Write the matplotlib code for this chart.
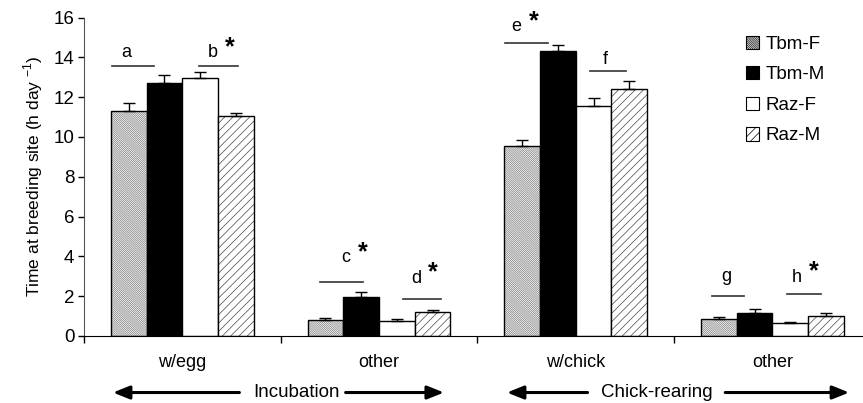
import matplotlib.pyplot as plt
from matplotlib.patches import Patch
from matplotlib import transforms
import numpy as np

plt.rcParams['font.family'] = ['Liberation Sans', 'DejaVu Sans']
plt.rcParams['hatch.linewidth'] = 0.5

# donnees
groups = ['w/egg', 'other', 'w/chick', 'other']
series = ['Tbm-F', 'Tbm-M', 'Raz-F', 'Raz-M']
means = [
    [11.30, 0.80, 9.56, 0.87],   # Tbm-F
    [12.73, 1.94, 14.34, 1.14],  # Tbm-M
    [12.98, 0.74, 11.57, 0.65],  # Raz-F
    [11.06, 1.20, 12.40, 1.02],  # Raz-M
]
errs = [
    [0.42, 0.12, 0.27, 0.07],
    [0.37, 0.25, 0.27, 0.20],
    [0.29, 0.11, 0.41, 0.07],
    [0.16, 0.12, 0.40, 0.12],
]
# lettres de significativite : lettre, debut, fin, hauteur du trait, x/y lettre, etoile
sig_letters = ['a', 'b', 'c', 'd', 'e', 'f', 'g', 'h']
sig_x0 = [-0.359, 0.083, 0.700, 1.123, 1.640, 2.072, 2.691, 3.075]
sig_x1 = [-0.146, 0.281, 0.920, 1.313, 1.859, 2.254, 2.857, 3.245]
sig_y = [13.58, 13.58, 2.71, 1.84, 14.74, 13.32, 2.01, 2.13]
sig_tx = [-0.283, 0.156, 0.830, 1.188, 1.700, 2.149, 2.767, 3.125]
sig_ty = [14.22, 14.22, 3.92, 2.91, 15.53, 13.87, 2.98, 2.96]
sig_star = [False, True, True, True, True, False, False, True]
phases = ['Incubation', 'Chick-rearing']

fig = plt.figure(figsize=(8.63, 4.03), dpi=100)
# l'axe x depasse a droite de l'image, comme sur l'original
ax = fig.add_axes([84/863, 67/403, (870.8-84)/863, (336-17.5)/403])

x = np.arange(len(groups))
w = 0.1815
fills = ['white', 'black', 'white', 'white']
hatches = ['\\' * 16, None, None, '////']
hatch_cols = ['#7a7a7a', 'black', 'black', '#444444']
for i in range(4):
    pos = x + (i - 1.5) * w
    ax.bar(pos, means[i], w, color=fills[i], hatch=hatches[i], edgecolor=hatch_cols[i], linewidth=0)
    ax.bar(pos, means[i], w, fill=False, edgecolor='black', linewidth=1.0)
    ax.errorbar(pos, means[i], yerr=[np.zeros(4), errs[i]], fmt='none', ecolor='black',
                elinewidth=1.0, capsize=4.5, capthick=1.0)

for k in range(len(sig_letters)):
    ax.plot([sig_x0[k], sig_x1[k]], [sig_y[k], sig_y[k]], color='#333333', lw=1.2)
    ax.text(sig_tx[k], sig_ty[k], sig_letters[k], ha='center', va='center', fontsize=13)
    if sig_star[k]:
        ax.annotate('*', (sig_tx[k], sig_ty[k]), xytext=(12, 4), textcoords='offset points',
                    ha='center', va='center', fontsize=18, fontweight='bold')

ax.set_xlim(-0.5, 3.5)
ax.set_ylim(0, 16)
ax.set_yticks(np.arange(0, 17, 2))
ax.set_xticks([-0.5, 0.5, 1.5, 2.5, 3.5])
ax.set_xticklabels([])
ax.set_xticks(x, minor=True)
ax.set_xticklabels(groups, minor=True, fontsize=13)
ax.tick_params(axis='x', which='minor', length=0, pad=13)
ax.tick_params(axis='x', which='major', direction='out', length=5, width=1)
ax.tick_params(axis='y', direction='out', length=4, width=1, labelsize=13.5, pad=3)
ax.spines['top'].set_visible(False)
ax.spines['right'].set_visible(False)
ax.spines['left'].set_color('#555555')
ax.set_ylabel(r'Time at breeding site (h day $^{\mathregular{-1}}$)', fontsize=12.5)
ax.yaxis.set_label_coords(-0.05, 0.5)

# fleches des phases
arrow_y = 0.026
txt_x = [0.578, 2.41]
left_end = [-0.353, 1.65]
left_start = [0.29, 2.06]
right_start = [0.83, 2.76]
right_end = [1.33, 3.39]
trans = transforms.blended_transform_factory(ax.transData, fig.transFigure)
for j in range(2):
    ax.text(txt_x[j], arrow_y, phases[j], transform=trans,
            ha='center', va='center', fontsize=13.5)
    for a, b in [(left_start[j], left_end[j]), (right_start[j], right_end[j])]:
        ax.annotate('', xy=(b, arrow_y), xytext=(a, arrow_y),
                    xycoords=('data', 'figure fraction'), textcoords=('data', 'figure fraction'),
                    annotation_clip=False,
                    arrowprops=dict(arrowstyle='-|>,head_length=1.0,head_width=0.4',
                                    color='black', lw=2.2, shrinkA=0, shrinkB=0))

handles = [Patch(facecolor=fills[i], hatch=hatches[i], edgecolor='black', linewidth=0.8)
           for i in range(4)]
fig.legend(handles, series, loc='upper left', bbox_to_anchor=(738/863, 1 - 28/403),
           frameon=False, fontsize=13.5, handlelength=0.7, handleheight=0.7,
           handletextpad=0.35, labelspacing=0.72, borderaxespad=0)

fig.savefig('out.png', dpi=100)
